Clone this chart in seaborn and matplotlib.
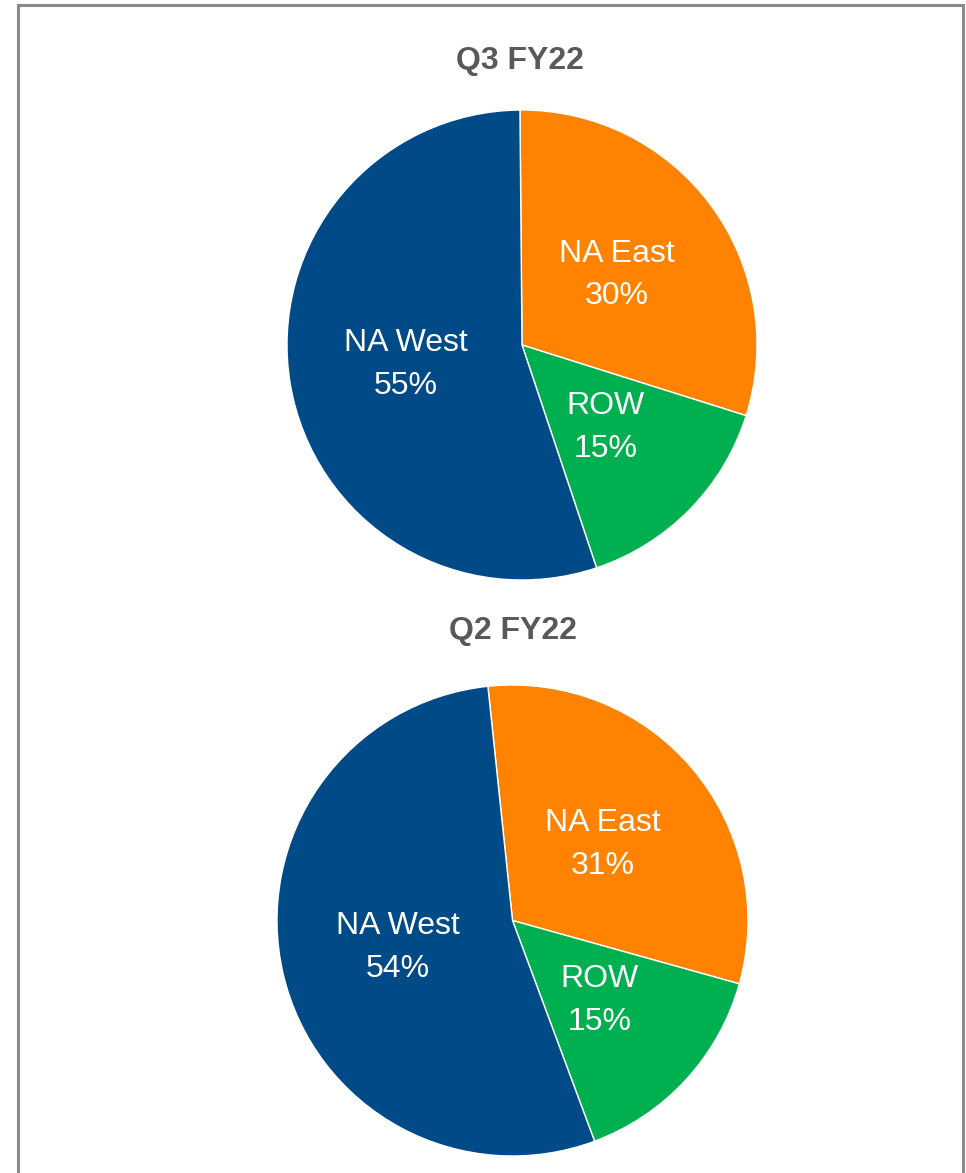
from matplotlib import pyplot as plt
from matplotlib.patches import Rectangle
import seaborn as sns

# Revenue split by region
regions = ["NA East", "ROW", "NA West"]
q3_share = [30, 15, 55]
q2_share = [31, 15, 54]
titles = ["Q3 FY22", "Q2 FY22"]
colors = ["#FF8200", "#00B050", "#004B87"]

sns.set_theme(style="white")
plt.rcParams['font.family'] = ['Liberation Sans', 'DejaVu Sans']

fig = plt.figure(figsize=(9.66, 11.73), dpi=100)

# panel border (open at the bottom)
fig.patches.append(Rectangle((18 / 966, -0.05), 945 / 966, 1.05 - 5 / 1173,
                             transform=fig.transFigure, fill=False,
                             edgecolor='#8a8a8a', linewidth=2.2, clip_on=False))

boxes = [[287 / 966, 593 / 1173, 470 / 966, 470 / 1173],
         [277 / 966, 17 / 1173, 471 / 966, 471 / 1173]]
starts = [90.5, 96]
title_pos = [(520, 61), (513, 631)]

for box, shares, start, title, tpos in zip(boxes, [q3_share, q2_share], starts, titles, title_pos):
    ax = fig.add_axes(box)
    labels = [f"{r}\n{v}%" for r, v in zip(regions, shares)]
    wedges, texts = ax.pie(shares, labels=labels, colors=colors, startangle=start,
                           counterclock=False, labeldistance=0.5,
                           wedgeprops=dict(edgecolor='white', linewidth=1),
                           textprops=dict(color='white', fontsize=23, linespacing=1.55))
    for t in texts:
        t.set_ha('center')
        t.set_va('center')
    ax.set_xlim(-1, 1)
    ax.set_ylim(-1, 1)
    ax.set_aspect('equal')
    fig.text(tpos[0] / 966, 1 - tpos[1] / 1173, title, ha='center', va='center',
             fontsize=23, fontweight='bold', color='#595959')

plt.savefig("out.png", dpi=100)
